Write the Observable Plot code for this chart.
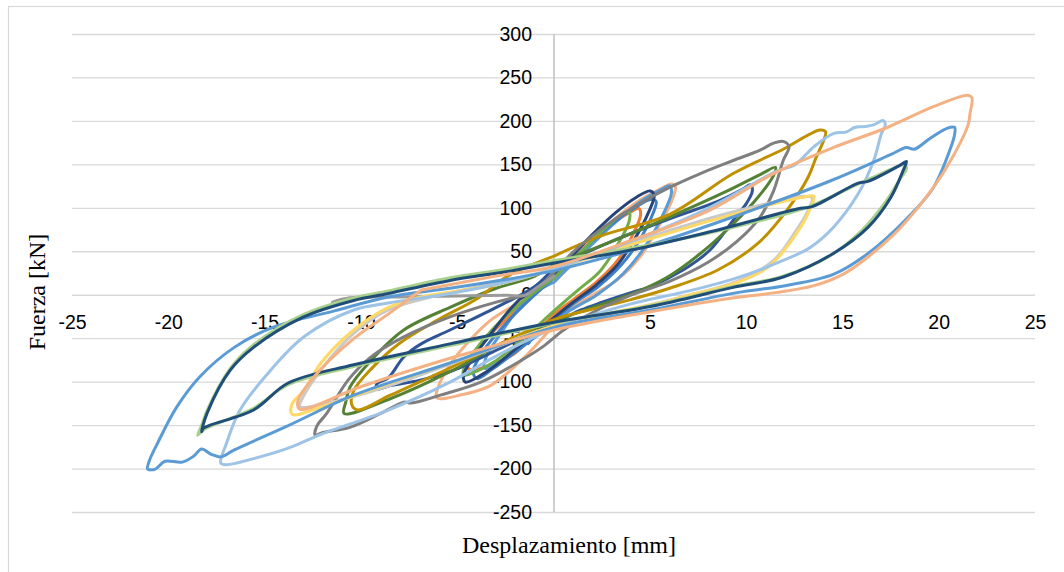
<!DOCTYPE html>
<html>
<head>
<meta charset="utf-8">
<script src="https://cdn.jsdelivr.net/npm/d3@7"></script>
<script src="https://cdn.jsdelivr.net/npm/@observablehq/plot@0.6"></script>
<style>
  html, body { margin: 0; padding: 0; background: #ffffff; }
  #chart { width: 1064px; height: 572px; }
</style>
</head>
<body>
<div id="chart"></div>
<script>
// ---- tick labels ----
const xTicks = [-25, -20, -15, -10, -5, 0, 5, 10, 15, 20, 25];
const yTicks = [-250, -200, -150, -100, -50, 0, 50, 100, 150, 200, 250, 300];

// ---- series (Desplazamiento [mm], Fuerza [kN]) ----
const orangeSmall = [[0,22],[1.5,55],[3,82],[4,96],[4.4,100],[4.5,93],[4.1,70],[3.3,40],[2.2,15],[1,-5],[0,-22],[-1,-45],[-2.1,-68],[-3.3,-80],[-4.3,-86],[-4.5,-82],[-4.1,-68],[-3.3,-45],[-2.1,-20],[-1.2,0],[0,22]];
const peachSmall = [[0,25],[1.5,55],[3,85],[4.5,110],[5.5,122],[6.1,128],[6.3,125],[6.1,108],[5.4,78],[4.5,45],[3.3,18],[2,0],[0.6,-20],[-0.3,-42],[-1.7,-75],[-3.3,-104],[-4.7,-114],[-6.1,-118],[-6.0,-105],[-5.4,-80],[-4.5,-55],[-3.3,-29],[-1.7,-6],[0,25]];
const blueSmall = [[0,15],[1.5,48],[3,80],[4.5,108],[5.6,122],[6.0,126],[6.1,118],[5.6,90],[4.7,55],[3.6,25],[2.2,0],[0.8,-18],[-0.5,-40],[-2,-65],[-3.6,-84],[-3.5,-70],[-2.8,-45],[-2,-20],[-1.2,0],[0,15]];
const blue2Small = [[0,20],[1.5,52],[3,82],[4.3,102],[5.0,110],[5.3,108],[5.1,92],[4.4,62],[3.5,35],[2.3,10],[1,-10],[-0.5,-38],[-2,-65],[-3.2,-85],[-4.0,-96],[-4.2,-88],[-3.6,-62],[-2.6,-35],[-1.5,-10],[0,20]];
const greenSmall = [[0,20],[1.5,52],[2.8,80],[3.6,94],[3.9,96],[3.9,85],[3.3,58],[2.4,28],[1.2,5],[0,-18],[-1.5,-48],[-3,-75],[-4.3,-90],[-4.7,-92],[-4.6,-80],[-3.8,-55],[-2.7,-28],[-1.5,-5],[0,20]];
const navySmall = [[-1.8,-5],[-0.5,15],[0.8,42],[2,70],[3.2,95],[4.3,113],[5,120],[5.2,115],[4.9,95],[4.2,65],[3.3,35],[2.2,12],[1,-8],[-0.4,-33],[-2,-62],[-3.5,-88],[-4.6,-100],[-4.7,-92],[-4.2,-72],[-3.3,-45],[-2.5,-22],[-1.8,-5]];
const darkBlue = [[0,32],[3,62],[6,88],[8.5,108],[9.8,122],[10.2,127],[10.3,120],[10,106],[9.3,86],[8.1,52],[6.7,29],[5,10],[4,3],[2.5,-8],[1.4,-17],[0.3,-29],[-2.5,-58],[-5.4,-88],[-7,-98],[-8.5,-104],[-9.2,-108],[-9.2,-102],[-8.6,-95],[-7.8,-71],[-6.9,-56],[-5.4,-40],[-3,-14],[-1,10],[0,32]];
const green = [[0,35],[3,62],[6,90],[9,120],[10.8,140],[11.5,147],[11.4,138],[10.6,113],[9.3,82],[7.6,48],[5.9,21],[4.1,2],[2,-14],[0,-30],[-2.7,-55],[-5.4,-88],[-8.6,-120],[-10.9,-136],[-10.8,-122],[-10.6,-106],[-9.5,-75],[-7.8,-40],[-5.4,-14],[-3,8],[-1,22],[0,35]];
const gold = [[0,45],[2.4,68],[6,93],[9.3,140],[11.9,168],[13.8,190],[14.1,188],[14,178],[13.6,158],[13.2,136],[12.1,98],[10.6,60],[8.5,29],[6,8],[4,-5],[2,-16],[0,-28],[-3,-58],[-6,-90],[-8.5,-115],[-10.2,-132],[-10.5,-126],[-10.4,-110],[-9.5,-85],[-8,-55],[-6,-28],[-4,-4],[-2.4,22],[0,45]];
const gray = [[-1.5,0],[-0.5,15],[1,50],[3,85],[4.5,106],[6,124],[7.6,140],[9.3,155],[10.7,167],[11.4,175],[11.9,177],[12.2,171],[11.9,155],[11.4,120],[10.7,90],[9.5,62],[8,38],[6,16],[4,0],[2,-20],[0.5,-40],[-0.5,-58],[-1.7,-75],[-3.8,-100],[-5.9,-115],[-7.4,-124],[-7.8,-123],[-9,-136],[-10.6,-152],[-12,-158],[-12.4,-161],[-12.3,-150],[-11.8,-136],[-10.7,-98],[-9.5,-71],[-7.8,-48],[-5.4,-25],[-3,-8],[-1.5,0]];
const grayTail = [[-11.5,-8],[-10.6,-3],[-8,-2],[-5,-1],[-2.5,0],[-1.5,0],[-0.8,10],[0,22]];
const lightGray = [[0,30],[4,60],[8,88],[11,105],[12.9,114],[13.4,112],[13.2,98],[12.5,72],[11.4,40],[9.5,16],[7,0],[4,-16],[0,-36],[-4,-68],[-8,-100],[-11,-120],[-13.2,-128],[-13.1,-120],[-12.1,-86],[-10.4,-44],[-8.6,-17],[-6,0],[-3,14],[0,30]];
const yellow = [[0,30],[4,58],[8,85],[11,103],[13,113],[13.5,114],[13.3,100],[12.8,78],[11.1,32],[9.3,13],[7,0],[5.5,-9],[3,-20],[0,-35],[-5,-75],[-9,-105],[-12,-128],[-13.6,-137],[-13.6,-125],[-13,-110],[-12.1,-78],[-10.4,-40],[-8.6,-14],[-6.9,-2],[-3,12],[0,30]];
const lightBlue = [[0,30],[4,62],[8,100],[11.6,143],[12.5,150],[13.5,171],[14.5,186],[15.2,188],[15.6,193],[16.1,194],[16.6,196],[17.1,201],[17.2,196],[17,186],[16.6,155],[15.8,117],[14.5,78],[13.3,55],[11.9,40],[9.5,20],[7,5],[4,-10],[0,-38],[-3,-70],[-5.4,-100],[-8.7,-133],[-12.1,-160],[-13.8,-176],[-15.6,-188],[-17,-195],[-17.3,-193],[-17,-170],[-16.3,-132],[-14.7,-86],[-13,-48],[-10.4,-17],[-8.6,-9],[-5.4,2],[-2.5,15],[0,30]];
const medBlue = [[0,28],[5,58],[9.8,94],[14.4,132],[17.5,162],[18.3,170],[18.7,168],[19.5,180],[20.4,192],[20.8,193],[20.8,185],[20.6,170],[19.7,124],[18.4,90],[16.3,48],[14.5,24],[12,11],[9.5,3],[5,-17],[0,-37],[-5.4,-78],[-10.4,-115],[-13.8,-150],[-16.6,-178],[-17.3,-186],[-17.8,-183],[-18.3,-177],[-18.7,-185],[-19.3,-192],[-20.2,-191],[-20.7,-200],[-21.1,-200],[-21,-190],[-20.6,-171],[-19.6,-129],[-18.4,-94],[-16.6,-60],[-14.6,-37],[-11.4,-18],[-8.6,-2],[-5.4,8],[-2.5,18],[0,28]];
const lightGreen = [[0,40],[6,62],[10,82],[13,100],[15.8,128],[17,140],[18.2,150],[18.3,145],[18,135],[17.3,110],[16,75],[14.3,45],[11.9,22],[9.3,10],[5,-12],[0,-32],[-5.4,-58],[-10.4,-82],[-13.8,-103],[-15.6,-130],[-18.2,-155],[-18.5,-161],[-18.3,-150],[-18,-132],[-16.8,-84],[-15.6,-57],[-13,-22],[-10.4,-3],[-8.6,5],[-5.4,20],[-2.5,30],[0,40]];
const navy = [[0,37],[4,52],[8.1,73],[12.8,100],[13.4,102],[15.8,129],[16.3,131],[18,150],[18.3,154],[18.1,142],[17.5,113],[16.3,78],[14.5,48],[11.9,21],[9.3,9],[5,-13],[0,-31],[-5.4,-56],[-10.4,-80],[-13.8,-101],[-15.6,-132],[-18.2,-153],[-18.3,-157],[-18,-135],[-16.8,-86],[-15.6,-60],[-13,-25],[-10.4,-6],[-8.6,2],[-5.4,17],[-2.5,27],[0,37]];
const peach = [[-6.9,6],[-3,22],[0,33],[4,63],[8.1,98],[11.4,140],[14.4,169],[17.3,193],[19.7,217],[21.5,230],[21.7,227],[21.6,209],[21.5,196],[20.7,159],[19.7,124],[18,78],[16.3,44],[15,24],[13.5,11],[11.5,3],[9,-4],[5,-19],[0,-40],[-5,-70],[-10,-105],[-13.2,-131],[-13.3,-122],[-12.5,-95],[-10.4,-50],[-8.5,-20],[-6.9,6]];

const seriesNames  = ["orangeSmall","peachSmall","blueSmall","blue2Small","greenSmall","navySmall","darkBlue","green","gold","gray","grayTail","lightGray","yellow","lightBlue","medBlue","lightGreen","navy","peach"];
const seriesData   = [orangeSmall, peachSmall, blueSmall, blue2Small, greenSmall, navySmall, darkBlue, green, gold, gray, grayTail, lightGray, yellow, lightBlue, medBlue, lightGreen, navy, peach];
const seriesColors = ["#ED7D31","#F4B183","#5B9BD5","#3F7FC4","#70AD47","#264478","#2F5597","#548235","#BF9000","#7F7F7F","#9A9A9A","#C9C9C9","#FFD966","#9DC3E6","#5B9BD5","#A9D18E","#1F4E79","#F4B183"];

const sans = "'Liberation Sans', Arial, sans-serif";

const lineMarks = seriesData.map((pts, i) =>
  Plot.line(pts, {
    x: d => d[0], y: d => d[1],
    stroke: seriesColors[i], strokeWidth: 3,
    curve: "catmull-rom", strokeLinejoin: "round", strokeLinecap: "round"
  })
);

const chart = Plot.plot({
  width: 1064, height: 572,
  marginLeft: 72, marginRight: 29, marginTop: 34, marginBottom: 60,
  style: { fontFamily: sans, background: "#ffffff", overflow: "visible" },
  x: { domain: [-25, 25], axis: null },
  y: { domain: [-250, 300], axis: null },
  marks: [
    Plot.ruleY(yTicks, { stroke: "#D9D9D9", strokeWidth: 1.3 }),
    Plot.ruleX([0], { stroke: "#BFBFBF", strokeWidth: 1.5 }),
    Plot.text(yTicks, { x: 0, y: d => d, text: d => String(d), dx: -22, textAnchor: "end", fontSize: 19.5, fill: "#000000", fontFamily: sans }),
    Plot.text(xTicks, { x: d => d, y: 0, text: d => String(d), dy: 28, fontSize: 19.5, fill: "#000000", fontFamily: sans }),
    ...lineMarks
  ]
});

const svg = d3.select(chart);
svg.insert("rect", ":first-child")
  .attr("x", 8.5).attr("y", 6.5).attr("width", 1100).attr("height", 600)
  .attr("fill", "none").attr("stroke", "#D9D9D9").attr("stroke-width", 1.2);

svg.append("text")
  .attr("x", 569).attr("y", 553)
  .attr("text-anchor", "middle")
  .attr("font-family", "'Liberation Serif', 'Times New Roman', serif")
  .attr("font-size", 24).attr("fill", "#000000")
  .text("Desplazamiento [mm]");

svg.append("text")
  .attr("transform", "translate(45,292) rotate(-90)")
  .attr("text-anchor", "middle")
  .attr("font-family", "'Liberation Serif', 'Times New Roman', serif")
  .attr("font-size", 24).attr("fill", "#000000")
  .text("Fuerza [kN]");

document.getElementById("chart").appendChild(chart);
</script>
</body>
</html>
